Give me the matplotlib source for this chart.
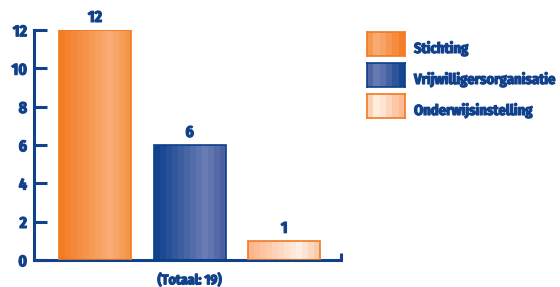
import numpy as np
import matplotlib
matplotlib.use("Agg")
import matplotlib.pyplot as plt
import matplotlib.patheffects as pe
from matplotlib.colors import to_rgb

categories = ["Stichting", "Vrijwilligersorganisatie", "Onderwijsinstelling"]
counts = [12, 6, 1]
total_label = "(Totaal: 19)"
yticks = [0, 2, 4, 6, 8, 10, 12]

NAVY = "#12418c"
FONT = ["Fira Sans Condensed", "DejaVu Sans"]
# the condensed face has no bold here, so thicken the glyphs a little
BOLD = [pe.withStroke(linewidth=0.8, foreground=NAVY)]

# colour stops for the striped gradients: (left, lightest, right)
stops = [
    ("#f37a20", "#f9ad76", "#f4923f"),
    ("#0b3f8b", "#6b7db5", "#485c9e"),
    ("#fbb387", "#fff0e4", "#fbc6a1"),
]
edges = ["#f47920", "#0b3f8b", "#f47920"]


def stripes(c0, c1, c2, n=12, peak=0.72):
    t = (np.arange(n) + 0.5) / n
    a, b, c = (np.array(to_rgb(x)) for x in (c0, c1, c2))
    out = []
    for v in t:
        if v < peak:
            f = v / peak
            out.append(a + (b - a) * f)
        else:
            f = (v - peak) / (1 - peak)
            out.append(b + (c - b) * f)
    return np.array(out)[None, :, :]


def txt(obj, size):
    obj.set_fontweight("bold")
    obj.set_fontsize(size)
    obj.set_family(FONT)
    obj.set_path_effects(BOLD)


fig = plt.figure(figsize=(5.6, 2.87), dpi=100)
W, H = 560, 287
ax = fig.add_axes([34 / W, 27 / H, (341 - 34) / W, (260 - 30) / H])

x = np.arange(len(categories))
width = 0.76
bars = ax.bar(x, counts, width=width, color="none", edgecolor="none", zorder=2)
for i, b in enumerate(bars):
    x0, h = b.get_x(), b.get_height()
    im = ax.imshow(stripes(*stops[i]), extent=[x0, x0 + width, 0, h],
                   aspect="auto", interpolation="nearest", zorder=2)
    im.set_clip_path(b)
    ax.bar(x[i], counts[i], width=width, color="none", edgecolor=edges[i],
           linewidth=1.2, zorder=3)
    t = ax.text(x[i], h + 0.42, str(counts[i]), ha="center", va="baseline",
                color=NAVY)
    txt(t, 11.5)

ax.set_xlim(-0.645, 2.6)
ax.set_ylim(0, 12)
ax.set_yticks(yticks)
ax.set_xticks([])
for s in ["top", "right"]:
    ax.spines[s].set_visible(False)
for s in ["left", "bottom"]:
    ax.spines[s].set_color(NAVY)
    ax.spines[s].set_linewidth(2.2)
ax.tick_params(axis="y", direction="in", length=9, width=2.2, color=NAVY,
               labelcolor=NAVY, pad=5)
for lab in ax.get_yticklabels():
    txt(lab, 11.5)
# small end tick at the right end of the x axis
ax.plot([2.6, 2.6], [0, 0.35], color=NAVY, lw=2.2, clip_on=False, zorder=4,
        solid_capstyle="butt")
t = ax.text(1, -0.65, total_label, ha="center", va="top", color=NAVY)
txt(t, 10)

# legend, drawn by hand with the same striped fills (mirrored)
for i, name in enumerate(categories):
    top = 32 + i * 31
    lax = fig.add_axes([367 / W, (H - top - 24) / H, 38 / W, 24 / H])
    lax.imshow(stripes(*stops[i], n=6)[:, ::-1], aspect="auto",
               interpolation="nearest")
    lax.set_xticks([])
    lax.set_yticks([])
    for s in lax.spines.values():
        s.set_color(edges[i])
        s.set_linewidth(1.2)
    t = fig.text(414 / W, (H - top - 21) / H, name, ha="left", va="baseline",
                 color=NAVY)
    txt(t, 10.5)

fig.savefig("out.png", dpi=100)
